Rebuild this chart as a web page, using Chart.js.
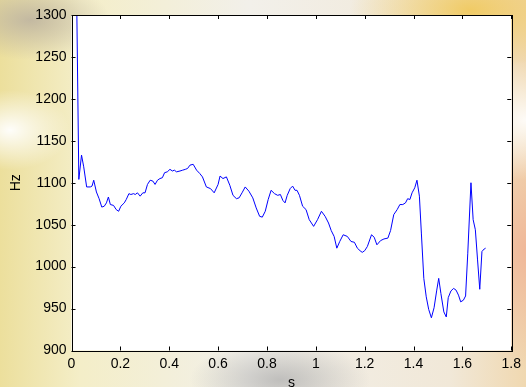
<!DOCTYPE html>
<html>
<head>
<meta charset="utf-8">
<script src="https://cdn.jsdelivr.net/npm/chart.js@4/dist/chart.umd.min.js"></script>
<style>
  html, body { margin: 0; padding: 0; }
  body {
    width: 526px; height: 387px; overflow: hidden;
    background:
      radial-gradient(ellipse 60px 40px at 10px 130px, rgba(255,255,255,0.95), rgba(255,255,255,0) 100%),
      radial-gradient(ellipse 80px 60px at 526px 120px, rgba(255,255,255,0.9), rgba(255,255,255,0) 100%),
      radial-gradient(ellipse 120px 60px at 470px 10px, rgba(240,200,90,0.9), rgba(240,200,90,0) 100%),
      radial-gradient(ellipse 60px 120px at 526px 250px, rgba(240,180,150,0.9), rgba(240,180,150,0) 100%),
      radial-gradient(ellipse 90px 40px at 280px 380px, rgba(170,170,170,0.7), rgba(170,170,170,0) 100%),
      radial-gradient(ellipse 80px 40px at 30px 20px, rgba(190,180,160,0.9), rgba(190,180,160,0) 100%),
      linear-gradient(to right, #ecdf9c 0px, #f4eec8 80px, #f2f0ea 250px, #f1e8d8 450px, #f0d8b0 526px);
  }
  #wrap { position: absolute; left: 0; top: 0; width: 526px; height: 387px; }
</style>
</head>
<body>
<div id="wrap"><canvas id="myChart" width="526" height="387"></canvas></div>
<script>
// zaman (s) ve frekans (Hz) değerleri
const times = [0.022, 0.030, 0.041, 0.050, 0.062, 0.077, 0.084, 0.091, 0.102, 0.113,
  0.124, 0.134, 0.143, 0.151, 0.159, 0.172, 0.183, 0.193, 0.202, 0.216,
  0.224, 0.235, 0.243, 0.254, 0.261, 0.270, 0.281, 0.292, 0.301, 0.311,
  0.322, 0.333, 0.342, 0.352, 0.362, 0.372, 0.381, 0.392, 0.403, 0.413,
  0.421, 0.430, 0.444, 0.455, 0.466, 0.475, 0.485, 0.498, 0.512, 0.525,
  0.536, 0.552, 0.569, 0.584, 0.600, 0.608, 0.620, 0.634, 0.648, 0.661,
  0.675, 0.686, 0.698, 0.711, 0.726, 0.742, 0.756, 0.770, 0.781, 0.793,
  0.805, 0.817, 0.831, 0.844, 0.855, 0.865, 0.874, 0.883, 0.895, 0.905,
  0.915, 0.923, 0.933, 0.946, 0.960, 0.973, 0.991, 1.007, 1.023, 1.038,
  1.052, 1.063, 1.075, 1.086, 1.098, 1.112, 1.129, 1.144, 1.158, 1.170,
  1.181, 1.190, 1.200, 1.211, 1.228, 1.239, 1.250, 1.265, 1.279, 1.295,
  1.306, 1.319, 1.333, 1.344, 1.356, 1.367, 1.376, 1.385, 1.394, 1.405,
  1.414, 1.424, 1.432, 1.442, 1.452, 1.462, 1.473, 1.484, 1.495, 1.503,
  1.512, 1.524, 1.534, 1.542, 1.553, 1.564, 1.574, 1.584, 1.593, 1.604,
  1.613, 1.622, 1.635, 1.644, 1.653, 1.662, 1.671, 1.680, 1.689, 1.695];
const freqs = [1300, 1104, 1133, 1119, 1095, 1095, 1096, 1103, 1089, 1081,
  1071, 1072, 1076, 1083, 1074, 1073, 1068, 1066, 1072, 1076,
  1080, 1087, 1086, 1087, 1086, 1088, 1084, 1088, 1088, 1098,
  1103, 1102, 1098, 1103, 1105, 1106, 1112, 1113, 1116, 1114,
  1115, 1113, 1114, 1115, 1116, 1117, 1121, 1122, 1115, 1111,
  1107, 1095, 1093, 1088, 1098, 1108, 1105, 1107, 1097, 1085,
  1081, 1082, 1088, 1095, 1090, 1082, 1070, 1060, 1059, 1066,
  1080, 1091, 1087, 1085, 1086, 1079, 1076, 1085, 1093, 1096,
  1091, 1091, 1085, 1072, 1068, 1056, 1048, 1056, 1066, 1060,
  1052, 1043, 1036, 1022, 1030, 1038, 1036, 1030, 1029, 1022,
  1019, 1017, 1019, 1024, 1038, 1035, 1026, 1031, 1033, 1034,
  1043, 1062, 1068, 1074, 1074, 1076, 1081, 1080, 1088, 1094,
  1103, 1084, 1040, 986, 964, 949, 939, 951, 972, 986,
  968, 946, 940, 963, 971, 974, 972, 966, 958, 960,
  965, 1016, 1100, 1056, 1044, 1008, 973, 1018, 1021, 1022];
const xTicks = [0, 0.2, 0.4, 0.6, 0.8, 1, 1.2, 1.4, 1.6, 1.8];
const yTicks = [900, 950, 1000, 1050, 1100, 1150, 1200, 1250, 1300];

const points = times.map((t, i) => ({ x: t, y: freqs[i] }));
const fontFam = "'Liberation Sans', Arial, Helvetica, sans-serif";

// beyaz çizim alanı + kutu + içe dönük tikler (MATLAB tarzı)
const boxPlugin = {
  id: 'box',
  beforeDraw(chart) {
    const a = chart.chartArea, c = chart.ctx;
    c.save();
    c.fillStyle = '#ffffff';
    c.fillRect(a.left, a.top, a.right - a.left, a.bottom - a.top);
    c.restore();
  },
  afterDraw(chart) {
    const a = chart.chartArea, c = chart.ctx;
    const xs = chart.scales.x, ys = chart.scales.y;
    const L = 4;
    c.save();
    c.strokeStyle = '#000';
    c.lineWidth = 1;
    c.beginPath();
    xTicks.forEach(v => {
      const px = Math.round(xs.getPixelForValue(v)) + 0.5;
      c.moveTo(px, a.bottom); c.lineTo(px, a.bottom - L);
      c.moveTo(px, a.top); c.lineTo(px, a.top + L);
    });
    yTicks.forEach(v => {
      const py = Math.round(ys.getPixelForValue(v)) + 0.5;
      c.moveTo(a.left, py); c.lineTo(a.left + L, py);
      c.moveTo(a.right, py); c.lineTo(a.right - L, py);
    });
    c.stroke();
    c.strokeRect(Math.round(a.left) + 0.5, Math.round(a.top) + 0.5,
      Math.round(a.right - a.left), Math.round(a.bottom - a.top));
    c.restore();
  }
};

new Chart(document.getElementById('myChart').getContext('2d'), {
  type: 'line',
  data: {
    datasets: [{
      data: points,
      borderColor: '#0000ff',
      borderWidth: 1,
      pointRadius: 0,
      tension: 0,
      fill: false
    }]
  },
  options: {
    responsive: false,
    animation: false,
    events: [],
    layout: { padding: { top: 15, right: 9, left: 0, bottom: 0 } },
    plugins: { legend: { display: false }, tooltip: { enabled: false } },
    scales: {
      x: {
        type: 'linear',
        min: 0, max: 1.8,
        afterBuildTicks(s) { s.ticks = xTicks.map(v => ({ value: v })); },
        afterFit(s) { s.height = 36.5; },
        grid: { display: false, drawTicks: false },
        border: { display: false },
        ticks: {
          color: '#000', padding: 5,
          font: { family: fontFam, size: 14 },
          maxRotation: 0,
          callback: v => String(Math.round(v * 10) / 10)
        },
        title: {
          display: true, text: 's', color: '#000',
          font: { family: fontFam, size: 14, lineHeight: 1 },
          padding: { top: -3, bottom: -3 }
        }
      },
      y: {
        min: 900, max: 1300,
        afterBuildTicks(s) { s.ticks = yTicks.map(v => ({ value: v })); },
        afterFit(s) { s.width = 71.5; },
        grid: { display: false, drawTicks: false },
        border: { display: false },
        ticks: {
          color: '#000', padding: 5,
          font: { family: fontFam, size: 14 },
          callback: v => String(v)
        },
        title: {
          display: true, text: 'Hz', color: '#000',
          font: { family: fontFam, size: 14, lineHeight: 1 },
          padding: { top: 9, bottom: 0 }
        }
      }
    }
  },
  plugins: [boxPlugin]
});
</script>
</body>
</html>
